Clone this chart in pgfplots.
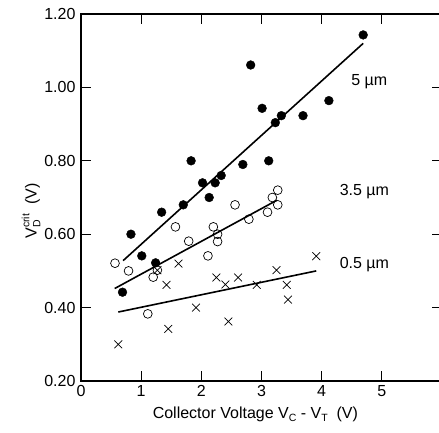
\documentclass[border=0pt]{standalone}
\usepackage{fontspec}
\setmainfont{Liberation Sans}
\usepackage{pgfplots}
\pgfplotsset{compat=1.18}
\newcommand{\lbl}{\fontsize{16}{19}\selectfont}
\newcommand{\sml}{\fontsize{10.5}{11}\selectfont}
\begin{document}
\begin{tikzpicture}
\begin{axis}[
  scale only axis,
  width=361pt, height=367pt,
  xmin=0, xmax=6, ymin=0.2, ymax=1.2,
  xtick={0,1,2,3,4,5},
  ytick={0.2,0.4,0.6,0.8,1.0,1.2},
  yticklabel style={xshift=-2pt,/pgf/number format/.cd,fixed,fixed zerofill,precision=2},
  /pgf/number format/assume math mode=true,
  tick label style={font=\lbl},
  xticklabel style={yshift=-1pt},
  tick align=inside,
  major tick length=10pt,
  tick style={line width=1pt,black},
  axis line style={line width=2pt},
  clip=false,
  xlabel={Collector Voltage V\raisebox{-0.4ex}{\sml C} - V\raisebox{-0.4ex}{\sml T}\ \ (V)},
  xlabel style={font=\lbl, at={(axis description cs:0.483,-0.060)}, anchor=north},
  ylabel={V\rlap{\raisebox{-0.45ex}{\sml D}}\raisebox{0.85ex}{\sml crit}\ \ (V)},
  ylabel style={font=\lbl, at={(axis description cs:-0.138,0.463)}, anchor=center},
]
% 5 um filled circles
\addplot[only marks, mark=*, mark size=4.4pt, black] coordinates {
(0.69,0.442)(0.83,0.60)(1.01,0.541)(1.24,0.522)(1.34,0.66)(1.70,0.68)(1.83,0.80)
(2.02,0.74)(2.13,0.70)(2.23,0.74)(2.33,0.76)(2.69,0.79)(2.82,1.061)(3.01,0.943)
(3.12,0.80)(3.23,0.904)(3.33,0.923)(3.69,0.923)(4.12,0.964)(4.69,1.143)};
% 3.5 um open circles
\addplot[only marks, mark=o, mark size=4.4pt, line width=0.7pt, black] coordinates {
(0.565,0.521)(0.79,0.50)(1.11,0.383)(1.20,0.483)(1.27,0.502)(1.57,0.62)(1.79,0.581)
(2.11,0.541)(2.20,0.62)(2.27,0.60)(2.27,0.58)(2.56,0.68)(2.79,0.641)(3.10,0.66)
(3.18,0.70)(3.27,0.72)(3.27,0.68)};
% 0.5 um crosses
\addplot[only marks, mark=x, mark size=5.5pt, line width=0.7pt, black] coordinates {
(0.62,0.30)(1.27,0.502)(1.42,0.462)(1.45,0.342)(1.62,0.52)(1.91,0.40)(2.25,0.482)
(2.40,0.463)(2.45,0.362)(2.61,0.482)(2.92,0.462)(3.25,0.502)(3.42,0.462)(3.44,0.422)
(3.91,0.54)};
% fit lines
\addplot[black, line width=1.6pt] coordinates {(0.70,0.528)(4.69,1.12)};
\addplot[black, line width=1.6pt] coordinates {(0.56,0.452)(3.26,0.693)};
\addplot[black, line width=1.6pt] coordinates {(0.62,0.388)(3.91,0.50)};
\node[font=\lbl] at (axis cs:4.79,1.015) {5 µm};
\node[font=\lbl] at (axis cs:4.71,0.715) {3.5 µm};
\node[font=\lbl] at (axis cs:4.71,0.516) {0.5 µm};
\coordinate (BL) at (rel axis cs:0,0);
\coordinate (TR) at (rel axis cs:1,1);
\end{axis}
\pgfresetboundingbox
\useasboundingbox ([shift={(-81pt,-51pt)}]BL) rectangle ([shift={(-3pt,14pt)}]TR);
\end{tikzpicture}
\end{document}
